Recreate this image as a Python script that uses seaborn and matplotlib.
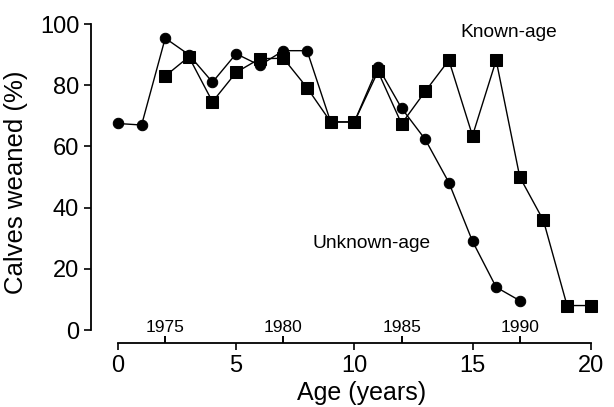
import numpy as np
import pandas as pd
import seaborn as sns
from matplotlib import pyplot as plt

# values
age_unknown = [0, 1, 2, 3, 4, 5, 6, 7, 8, 9, 10, 11, 12, 13, 14, 15, 16, 17]
weaned_unknown = [67.5, 67, 95.4, 90, 81, 90.3, 86.5, 91.3, 91.3, 68, 68,
                  86, 72.5, 62.3, 48.2, 29, 14, 9.6]
age_known = [2, 3, 4, 5, 6, 7, 8, 9, 10, 11, 12, 13, 14, 15, 16, 17, 18, 19, 20]
weaned_known = [83, 89.3, 74.6, 84.2, 88.7, 88.8, 79.2, 68, 68, 84.5, 67.4,
                78, 88.2, 63.5, 88.2, 50, 35.8, 8, 8]
age_ticks = [0, 5, 10, 15, 20]
year_ticks = [2, 7, 12, 17]
year_labels = ['1975', '1980', '1985', '1990']

sns.set_style('ticks', {'axes.edgecolor': 'black', 'text.color': 'black',
                        'axes.labelcolor': 'black', 'xtick.color': 'black',
                        'ytick.color': 'black'})
plt.rcParams['font.family'] = ['Liberation Sans', 'DejaVu Sans']

fig = plt.figure(figsize=(6.14, 4.07), dpi=100)
ax = fig.add_axes([0.1482, 0.1572, 0.8485, 0.7912])

df_u = pd.DataFrame({'age': age_unknown, 'weaned': weaned_unknown})
df_k = pd.DataFrame({'age': age_known, 'weaned': weaned_known})
sns.lineplot(data=df_u, x='age', y='weaned', ax=ax, color='black', lw=1.0,
             marker='o', markersize=7.5, markeredgecolor='black')
sns.lineplot(data=df_k, x='age', y='weaned', ax=ax, color='black', lw=1.0,
             marker='s', markersize=8, markeredgecolor='black')

ax.set_xlim(-1.14, 20.9)
ax.set_ylim(-4.25, 101)
sns.despine(ax=ax)
ax.spines['left'].set_bounds(0, 100)
ax.spines['bottom'].set_bounds(0, 20)
ax.spines['left'].set_linewidth(1.3)
ax.spines['bottom'].set_linewidth(1.3)

ax.set_xticks(age_ticks)
ax.set_yticks([0, 20, 40, 60, 80, 100])
ax.tick_params(axis='both', labelsize=17, width=1.2, length=5)
# year ticks point up from the age axis
ax.set_xticks(year_ticks, minor=True)
ax.tick_params(axis='x', which='minor', direction='in', length=5, width=1.2,
               bottom=True, labelbottom=False)
ax.set_xlabel('Age (years)', fontsize=18)
ax.set_ylabel('Calves weaned (%)', fontsize=18.5)
ax.xaxis.set_label_coords(0.52, -0.118)
ax.yaxis.set_label_coords(-0.12, 0.5)

# calendar year labels above the age axis
sec = ax.secondary_xaxis(-4.25, transform=ax.transData)
sec.spines['top'].set_bounds(0, 20)
sec.spines['top'].set_linewidth(1.3)
sec.spines['bottom'].set_visible(False)
sec.set_xticks(year_ticks)
sec.set_xticklabels(year_labels)
sec.tick_params(axis='x', which='major', top=True, bottom=False,
                labeltop=True, labelbottom=False, direction='out',
                labelsize=12.5, width=1.2, length=5, pad=1, color='black')

ax.text(14.5, 97.4, 'Known-age', fontsize=13.8, ha='left', va='center')
ax.text(8.25, 28.4, 'Unknown-age', fontsize=13.8, ha='left', va='center')

fig.savefig('out.png', dpi=100)
